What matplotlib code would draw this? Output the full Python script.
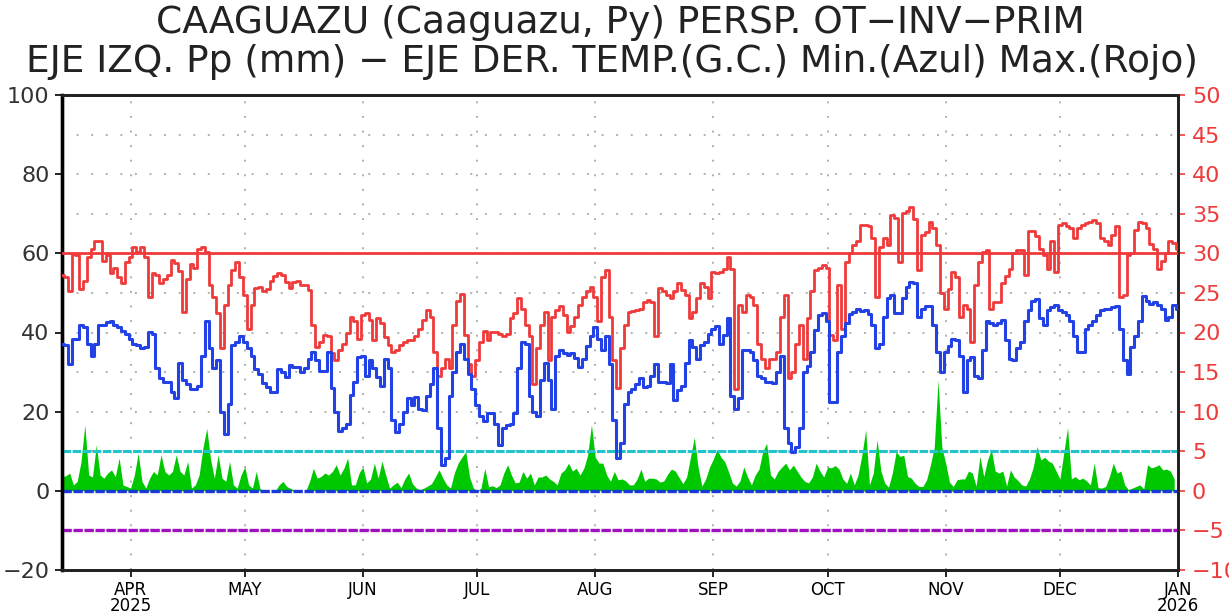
import numpy as np
import matplotlib
matplotlib.use("Agg")
import matplotlib.pyplot as plt

# Serie diaria desde el 14-mar-2025
fecha_ini = np.datetime64("2025-03-14")

# Temperatura maxima (C)
tmax = [27.3, 27.0, 25.2, 29.9, 29.8, 25.5, 26.5, 29.6, 30.5, 31.5,
        31.5, 29.0, 29.8, 27.5, 28.2, 27.0, 26.2, 28.9, 29.6, 30.8,
        30.2, 30.8, 29.5, 24.5, 27.5, 27.3, 26.2, 26.8, 27.3, 29.2,
        28.8, 27.8, 22.6, 26.8, 28.7, 28.2, 30.5, 30.8, 30.2, 26.0,
        24.5, 22.5, 18.0, 23.5, 26.0, 27.9, 28.9, 27.0, 24.7, 20.5,
        23.5, 25.6, 25.8, 25.3, 25.5, 26.5, 27.2, 27.5, 27.3, 26.4,
        25.6, 26.4, 26.5, 26.0, 26.0, 25.4, 21.0, 18.2, 18.8, 19.7,
        19.5, 17.4, 16.5, 17.8, 18.5, 20.0, 22.0, 21.4, 19.2, 22.2,
        22.5, 21.6, 19.0, 21.8, 21.2, 19.4, 18.4, 17.6, 17.8, 18.4,
        18.8, 19.0, 19.0, 19.5, 20.5, 21.6, 22.8, 22.0, 17.5, 14.5,
        15.5, 16.7, 15.5, 21.0, 24.0, 24.9, 19.7, 16.0, 14.5, 16.5,
        18.8, 20.2, 19.0, 20.1, 20.1, 19.8, 19.5, 19.8, 21.8, 22.5,
        24.3, 23.0, 21.0, 19.5, 13.5, 18.0, 21.0, 22.6, 16.5, 22.0,
        22.8, 23.3, 22.2, 20.1, 20.8, 22.0, 23.5, 24.5, 25.2, 25.8,
        24.5, 21.4, 27.0, 27.9, 22.0, 16.5, 13.0, 18.0, 21.0, 22.6,
        22.7, 22.8, 23.0, 23.8, 24.1, 23.9, 19.5, 25.6, 25.2, 24.8,
        24.3, 25.2, 26.2, 25.4, 24.7, 21.8, 22.6, 24.3, 26.2, 25.8,
        24.3, 27.7, 27.5, 27.7, 28.0, 29.5, 28.0, 12.9, 23.5, 22.6,
        24.7, 24.5, 23.5, 18.5, 16.7, 15.5, 16.7, 16.7, 17.5, 22.0,
        24.7, 14.2, 15.0, 18.5, 20.9, 16.7, 21.8, 25.2, 27.9, 28.1,
        28.5, 28.1, 19.7, 19.0, 26.0, 20.5, 28.9, 30.0, 31.0, 31.5,
        33.6, 33.6, 33.4, 32.0, 24.5, 30.8, 31.9, 31.0, 34.8, 34.5,
        28.9, 35.1, 35.3, 35.9, 34.4, 27.9, 32.3, 32.7, 34.0, 33.2,
        31.0, 25.0, 23.0, 25.5, 27.7, 27.0, 22.0, 23.5, 23.0, 18.8,
        26.0, 28.9, 30.2, 30.4, 23.0, 23.9, 23.8, 26.2, 27.2, 28.0,
        30.0, 30.4, 30.4, 27.3, 32.8, 32.8, 32.2, 30.6, 29.8, 28.0,
        31.5, 27.7, 33.6, 33.8, 33.5, 33.2, 32.0, 33.2, 33.6, 33.8,
        34.0, 34.2, 33.8, 32.0, 31.5, 31.0, 32.3, 33.5, 24.5, 24.7,
        29.8, 30.0, 33.0, 34.0, 33.8, 33.2, 31.2, 30.6, 28.0, 29.0,
        30.0, 31.5, 31.3, 30.6]

# Temperatura minima (C)
tmin = [18.6, 18.4, 16.0, 19.2, 19.2, 21.0, 20.7, 18.6, 17.0, 18.5,
        21.0, 21.0, 21.3, 21.4, 21.0, 20.7, 20.2, 19.8, 19.2, 18.6,
        18.4, 18.1, 18.2, 20.1, 19.8, 15.5, 14.3, 13.8, 13.7, 12.5,
        11.7, 16.1, 14.0, 13.5, 12.9, 12.9, 13.3, 17.0, 21.5, 18.0,
        15.5, 16.5, 10.0, 7.2, 11.0, 18.4, 18.8, 19.5, 18.8, 18.0,
        17.0, 15.4, 14.8, 13.6, 13.1, 12.5, 12.5, 15.4, 15.0, 14.4,
        15.9, 15.7, 15.7, 15.0, 15.5, 16.7, 17.6, 16.5, 15.2, 15.2,
        17.5, 13.0, 10.0, 7.6, 8.0, 8.5, 12.1, 13.8, 16.9, 17.0,
        14.5, 16.5, 15.5, 14.4, 13.3, 16.7, 15.5, 9.0, 7.4, 8.5,
        10.0, 11.7, 10.8, 11.8, 10.4, 10.2, 12.0, 13.5, 15.5, 8.0,
        3.3, 4.1, 12.0, 15.0, 17.5, 18.6, 16.7, 14.8, 12.9, 10.9,
        9.4, 8.8, 9.8, 9.8, 8.5, 5.8, 7.9, 8.3, 8.5, 9.8,
        15.5, 18.8, 18.6, 12.0, 10.0, 9.5, 14.0, 16.2, 14.0, 10.4,
        17.0, 17.8, 17.4, 17.2, 17.4, 16.8, 15.7, 16.6, 18.3, 19.6,
        20.7, 19.2, 17.8, 19.5, 16.0, 9.0, 4.2, 6.0, 11.0, 12.5,
        12.9, 13.5, 14.2, 13.1, 13.3, 14.5, 16.0, 13.8, 13.8, 13.6,
        16.0, 11.5, 12.8, 13.3, 16.2, 19.0, 18.2, 16.7, 18.4, 18.8,
        19.8, 20.5, 20.8, 18.5, 19.7, 21.8, 12.0, 10.4, 11.7, 17.8,
        17.8, 17.6, 16.5, 14.5, 14.3, 13.8, 13.7, 13.6, 15.0, 17.0,
        8.0, 6.0, 4.9, 5.5, 8.0, 15.0, 15.8, 17.5, 20.3, 22.2,
        22.5, 21.5, 11.2, 11.2, 17.5, 19.5, 21.2, 22.4, 22.6, 23.0,
        22.7, 22.8, 22.3, 20.9, 18.0, 18.5, 22.0, 24.3, 24.8, 22.5,
        22.5, 24.3, 25.8, 26.4, 26.2, 22.0, 23.0, 23.3, 23.3, 21.0,
        17.6, 15.0, 17.6, 18.3, 19.2, 19.0, 17.0, 12.5, 16.5, 16.9,
        14.5, 14.2, 17.8, 21.5, 21.2, 21.0, 21.2, 21.6, 19.0, 16.6,
        16.5, 18.0, 18.8, 21.5, 22.8, 24.0, 24.2, 21.8, 20.9, 22.8,
        23.2, 23.5, 22.8, 22.6, 22.2, 21.4, 19.5, 17.5, 17.5, 20.5,
        21.0, 21.4, 22.2, 22.8, 23.0, 23.0, 23.2, 23.4, 20.5, 16.5,
        14.8, 18.2, 19.5, 21.5, 24.6, 24.0, 23.6, 23.8, 23.5, 23.0,
        21.6, 22.0, 23.5, 23.0]

# Precipitacion diaria (mm)
pp = [3.6, 3.8, 4.5, 1.5, 2.4, 7.4, 16.7, 4.0, 3.5, 11.6,
      4.0, 3.2, 4.5, 5.3, 3.6, 8.3, 1.5, 1.1, 0.7, 4.0,
      9.5, 2.4, 0.7, 3.2, 4.9, 4.0, 9.1, 4.9, 4.0, 4.9,
      9.1, 4.9, 4.0, 7.4, 0.7, 1.5, 4.0, 10.8, 15.8, 8.0,
      3.2, 9.1, 3.2, 2.4, 7.4, 1.5, 0.7, 4.0, 6.1, 1.5,
      0.7, 4.9, 0.5, 0.2, 0.0, 0.0, 0.0, 1.5, 2.4, 1.1,
      0.6, 0.2, 0.0, 0.0, 0.0, 2.4, 5.7, 3.2, 3.6, 4.5,
      4.0, 4.9, 6.6, 4.0, 5.7, 8.3, 1.5, 1.5, 4.5, 6.0,
      2.0, 3.0, 7.0, 3.2, 7.5, 4.0, 0.7, 1.5, 2.2, 0.8,
      3.0, 4.5, 1.8, 0.7, 0.3, 0.7, 1.2, 1.8, 3.5, 5.3,
      3.2, 1.5, 0.7, 4.5, 7.0, 8.5, 9.9, 3.5, 0.7, 0.0,
      0.7, 5.7, 1.0, 1.3, 0.8, 1.5, 4.5, 6.6, 4.0, 2.0,
      2.2, 4.9, 3.2, 4.5, 1.5, 3.5, 3.5, 4.0, 3.0, 2.4,
      1.5, 4.5, 5.3, 7.0, 5.0, 5.7, 4.0, 5.7, 9.0, 16.7,
      8.5, 7.0, 7.0, 4.0, 2.4, 4.9, 2.8, 3.0, 2.5, 1.5,
      1.5, 3.0, 5.5, 2.4, 3.2, 3.2, 3.0, 2.2, 2.5, 4.2,
      5.5, 5.0, 3.4, 1.8, 3.5, 8.5, 13.5, 6.0, 1.2, 3.0,
      6.0, 8.0, 10.5, 8.5, 7.4, 4.8, 2.0, 1.2, 2.5, 6.0,
      3.5, 1.5, 4.0, 5.5, 10.0, 12.0, 4.0, 3.0, 4.9, 6.0,
      7.0, 5.3, 6.5, 5.0, 3.5, 2.4, 2.0, 3.5, 7.0, 5.0,
      3.5, 6.0, 5.8, 6.4, 5.5, 3.0, 1.9, 4.5, 1.5, 4.0,
      9.0, 15.4, 1.5, 4.5, 12.9, 5.0, 2.0, 0.9, 4.5, 9.9,
      8.7, 9.0, 3.6, 3.2, 1.9, 1.1, 1.1, 2.8, 6.5, 11.0,
      28.0, 11.0, 7.0, 2.2, 1.1, 2.8, 3.0, 3.0, 5.0, 4.5,
      1.2, 8.7, 3.6, 7.8, 10.4, 5.0, 4.5, 5.0, 1.2, 5.3,
      3.5, 2.6, 1.5, 1.2, 3.0, 6.0, 11.2, 7.8, 8.5, 7.5,
      7.0, 5.0, 3.0, 9.5, 16.0, 3.0, 3.6, 2.8, 3.2, 2.5,
      1.5, 7.0, 0.8, 0.7, 1.1, 3.6, 7.0, 4.5, 5.0, 1.5,
      0.3, 0.7, 1.1, 1.5, 0.5, 6.6, 5.8, 6.1, 6.6, 5.3,
      5.5, 5.0, 3.0]

meses = ["APR\n2025", "MAY", "JUN", "JUL", "AUG", "SEP", "OCT", "NOV", "DEC", "JAN\n2026"]

titulo1 = "CAAGUAZU (Caaguazu, Py) PERSP. OT\u2212INV\u2212PRIM"
titulo2 = "EJE IZQ. Pp (mm) \u2212 EJE DER. TEMP.(G.C.) Min.(Azul) Max.(Rojo)"

fechas_t = fecha_ini + np.arange(len(tmax))
fechas_p = fecha_ini + np.arange(len(pp))
inicio_mes = np.arange("2025-04", "2026-02", dtype="datetime64[M]").astype("datetime64[D]")

rojo = "#f03a3a"
azul = "#2342e6"
gris = "#333333"

fig = plt.figure(figsize=(12.29, 6.14), dpi=100)
ax1 = fig.add_axes([62/1229, 44/614, 1116/1229, 475/614])
ax2 = ax1.twinx()

# grilla punteada
for f in inicio_mes[:-1]:
    ax1.axvline(f, color="#b0b0b0", lw=1.4, ls=(0, (1, 6.5)), zorder=0)
for v in range(-10, 100, 10):
    ax1.axhline(v, color="#b0b0b0", lw=1.4, ls=(0, (1, 6.5)), zorder=0)

# precipitacion
ax1.fill_between(fechas_p, 0, pp, color="#00c800", lw=0, zorder=2)

# lineas de referencia
ax1.axhline(10, color="#22c4cc", lw=2.2, ls=(0, (2.8, 0.5)), zorder=3)
ax1.axhline(0, color="#1a38d8", lw=2.4, ls=(0, (2.8, 0.5)), zorder=3)
ax1.axhline(-10, color="#a010c0", lw=2.4, ls=(0, (2.8, 0.5)), zorder=3)

# temperaturas
ax2.axhline(30, color=rojo, lw=2.0, zorder=3)
ax2.plot(fechas_t, tmax, color=rojo, lw=2.0, drawstyle="steps-mid", zorder=4)
ax2.plot(fechas_t, tmin, color=azul, lw=2.2, drawstyle="steps-mid", zorder=4)

ax1.set_xlim(fecha_ini, np.datetime64("2026-01-01"))
ax1.set_ylim(-20, 100)
ax2.set_ylim(-10, 50)

ax1.set_xticks(inicio_mes)
ax1.set_xticklabels(meses, fontsize=12, linespacing=0.85)
ax1.set_yticks(range(-20, 101, 20))
ax1.set_yticklabels([str(v).replace("-", "\u2212") for v in range(-20, 101, 20)],
                    fontsize=16, color=gris)
ax2.set_yticks(range(-10, 51, 5))
ax2.set_yticklabels([str(v).replace("-", "\u2212") for v in range(-10, 51, 5)],
                    fontsize=16, color=rojo)

ax1.tick_params(axis="x", length=5, width=1.2, pad=3, colors="black")
ax1.tick_params(axis="y", length=5, width=1.2, pad=4, color="black")
ax2.tick_params(axis="y", length=5, width=1.2, pad=5, color=rojo)

for ax in (ax1, ax2):
    for lado in ("top", "bottom", "right"):
        ax.spines[lado].set_linestyle((0, (2.9, 1.0)))
        ax.spines[lado].set_linewidth(2.0)
        ax.spines[lado].set_color("#222222")
    ax.spines["left"].set_linewidth(2.4)
    ax.spines["left"].set_color("black")
ax2.patch.set_visible(False)

fig.text(0.505, 1 - 33/614, titulo1, ha="center", va="baseline", fontsize=27,
         color="#222222")
fig.text(0.498, 1 - 72/614, titulo2, ha="center", va="baseline", fontsize=27,
         color="#222222")

plt.savefig("out.png", dpi=100)
